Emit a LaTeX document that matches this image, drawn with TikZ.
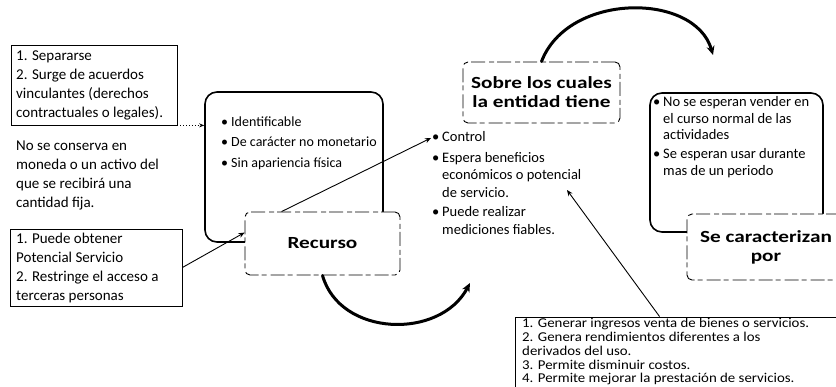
\documentclass[tikz,border=0pt]{standalone}
\usepackage{fontspec}
\setmainfont{Carlito}
\newfontfamily\wafont{Carlito}[FakeStretch=1.25]
\newfontfamily\widefont{Carlito}[FakeStretch=1.1]
\usetikzlibrary{arrows.meta,calc}
\newcommand{\tightlines}{\setlength{\lineskiplimit}{-100pt}}
\begin{document}
\begin{tikzpicture}[x=1pt,y=-1pt,
  plainbox/.style={draw, line width=0.8pt, inner sep=0pt},
  roundbox/.style={draw, line width=1.6pt, rounded corners=12pt, inner sep=0pt},
  wabox/.style={draw, line width=0.9pt, dash pattern=on 14pt off 3pt on 5pt off 4pt,
     rounded corners=5pt, fill=white, inner sep=0pt, align=center,
     font=\wafont\bfseries\fontsize{17pt}{19pt}\selectfont},
  txt/.style={anchor=base west, inner sep=0pt, align=left},
  conn/.style={line width=0.9pt, -{Stealth[length=6pt,width=5pt]}},
  thickarc/.style={line width=3pt, line cap=round, -{Stealth[length=9pt,width=8pt]}}
]
\useasboundingbox (0,0) rectangle (836,387);
\fill[white] (0,0) rectangle (836,387);

% left column (text nodes are placed by the baseline of their last line)
\node[plainbox, minimum width=166pt, minimum height=80pt] (tl) at (94,85) {};
\node[txt, font=\fontsize{15pt}{19pt}\selectfont] (tltxt) at (16,118)
  {1. Separarse\\2. Surge de acuerdos\\vinculantes (derechos\\contractuales o legales).};
\node[txt, font=\fontsize{15pt}{19pt}\selectfont] (free) at (16,208)
  {No se conserva en\\moneda o un activo del\\que se recibirá una\\cantidad fija.};
\node[plainbox, minimum width=172pt, minimum height=77pt] (bl) at (96,267.5) {};
\node[txt, font=\fontsize{15pt}{19pt}\selectfont] (bltxt) at (16,301)
  {1. Puede obtener\\Potencial Servicio\\2. Restringe el acceso a\\terceras personas};

% identifiable + recurso
\node[roundbox, minimum width=178pt, minimum height=150pt] (ident) at (294,167) {};
\node[txt, font=\fontsize{14pt}{20.5pt}\selectfont] (identtxt) at (221,167.5)
  {\makebox[10pt][l]{\textbullet}Identificable\\
   \makebox[10pt][l]{\textbullet}De carácter no monetario\\
   \makebox[10pt][l]{\textbullet}Sin apariencia física};
\node[wabox, minimum width=155pt, minimum height=63pt] (rec) at (322.5,243.5) {Recurso};

% control list
\coordinate (ctrlin) at (431,138);
\node[txt, font=\fontsize{14.5pt}{17.5pt}\selectfont] (ctrl) at (432,234.1)
  {\makebox[10pt][l]{\textbullet}Control\\[3pt]
   \makebox[10pt][l]{\textbullet}Espera beneficios\\
   \hspace*{10pt}económicos o potencial\\
   \hspace*{10pt}de servicio.\\[2pt]
   \makebox[10pt][l]{\textbullet}Puede realizar\\
   \hspace*{10pt}mediciones fiables.};
\node[wabox, minimum width=157pt, minimum height=61pt] (sobre) at (541.5,92.5)
  {Sobre los cuales\\la entidad tiene};

% right group
\node[roundbox, minimum width=173pt, minimum height=139pt] (nose) at (736.5,162.5) {};
\node[txt, font=\fontsize{14.5pt}{16.5pt}\selectfont] (nosetxt) at (653,175.1)
  {\makebox[10pt][l]{\textbullet}No se esperan vender en\\
   \hspace*{10pt}el curso normal de las\\
   \hspace*{10pt}actividades\\[2.5pt]
   \makebox[10pt][l]{\textbullet}Se esperan usar durante\\
   \hspace*{10pt}mas de un periodo};
\node[wabox, minimum width=158pt, minimum height=66pt] (se) at (766,247)
  {Se caracterizan\\por};

% bottom right box
\node[plainbox, minimum width=325pt, minimum height=70.5pt] (br) at (677.5,352.25) {};
\node[txt, font=\widefont\fontsize{13.5pt}{13.8pt}\selectfont\tightlines] (brtxt) at (522,383)
  {1. Generar ingresos venta de bienes o servicios.\\
   2. Genera rendimientos diferentes a los\\
   derivados del uso.\\
   3. Permite disminuir costos.\\
   4. Permite mejorar la prestación de servicios.};

% connectors
\coordinate (arcend1) at (470,283);
\coordinate (arcend2) at (713,55);
\coordinate (ctrlin2) at (567,190);
\draw[dotted, line width=0.9pt, -{Stealth[length=5pt,width=4pt]}] (tl.south east) -- (tl.south east -| ident.west);
\draw[conn] (bl.east) -- (rec.172);
\draw[conn] (rec.142) -- (ctrlin);
\draw[thickarc] (rec.south) .. controls (340,337) and (440,340) .. (arcend1);
\draw[thickarc] (sobre.north) .. controls (568,-8) and (695,-8) .. (arcend2);
\draw[conn] ($(br.north west)+(145,0)$) -- (ctrlin2);
\end{tikzpicture}
\end{document}
